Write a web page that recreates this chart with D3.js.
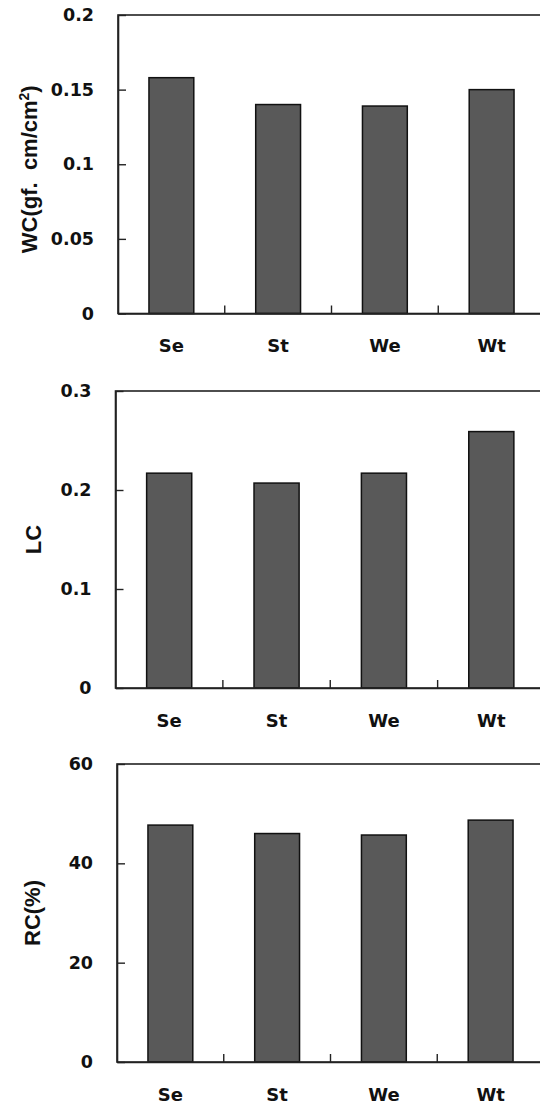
<!DOCTYPE html>
<html>
<head>
<meta charset="utf-8">
<script src="https://cdn.jsdelivr.net/npm/d3@7/dist/d3.min.js"></script>
<style>
  html, body { margin: 0; padding: 0; background: #fff; }
  svg { display: block; }
  .tick text, .cat-label { font-family: "DejaVu Sans", sans-serif; font-weight: bold; font-size: 17.5px; fill: #111; }
  .x-axis .tick text { font-size: 18px; }
  .axis-title { font-family: "Liberation Sans", Arial, sans-serif; font-weight: bold; font-size: 22px; fill: #111; white-space: pre; }
</style>
</head>
<body>
<svg id="chart" width="540" height="1104"></svg>
<script>
// Fabric measurements per sample
const categories = ["Se", "St", "We", "Wt"];
const wcValues = [0.158, 0.140, 0.139, 0.150];
const lcValues = [0.217, 0.207, 0.217, 0.259];
const rcValues = [47.7, 46.0, 45.7, 48.7];
const wcTicks = [0, 0.05, 0.1, 0.15, 0.2];
const lcTicks = [0, 0.1, 0.2, 0.3];
const rcTicks = [0, 20, 40, 60];

// Panel layout (frame box in page pixels)
const panels = [
  { values: wcValues, ticks: wcTicks, max: 0.2, title: "WC", left: 118, right: 545, top: 15, bottom: 313.5, titleX: 37 },
  { values: lcValues, ticks: lcTicks, max: 0.3, title: "LC", left: 115.5, right: 545, top: 391, bottom: 688, titleX: 41 },
  { values: rcValues, ticks: rcTicks, max: 60, title: "RC(%)", left: 117, right: 544, top: 764, bottom: 1062, titleX: 40 }
];

const svg = d3.select("#chart");

panels.forEach(p => {
  const g = svg.append("g");

  const x = d3.scaleBand()
    .domain(categories)
    .range([p.left, p.right])
    .paddingInner(0.58)
    .paddingOuter(0.29);

  const y = d3.scaleLinear()
    .domain([0, p.max])
    .range([p.bottom, p.top]);

  // bars
  g.selectAll("rect.bar")
    .data(categories.map((c, i) => ({ c, v: p.values[i] })))
    .join("rect")
    .attr("class", "bar")
    .attr("x", d => x(d.c))
    .attr("width", x.bandwidth())
    .attr("y", d => y(d.v))
    .attr("height", d => y(0) - y(d.v))
    .attr("fill", "#595959")
    .attr("stroke", "#111")
    .attr("stroke-width", 1.5);

  // frame
  g.append("rect")
    .attr("x", p.left)
    .attr("y", p.top)
    .attr("width", p.right - p.left)
    .attr("height", p.bottom - p.top)
    .attr("fill", "none")
    .attr("stroke", "#222")
    .attr("stroke-width", 1.6);

  // y axis with inward ticks
  const yAxis = d3.axisLeft(y)
    .tickValues(p.ticks)
    .tickFormat(d => String(d))
    .tickSizeInner(-8)
    .tickSizeOuter(0)
    .tickPadding(24);
  const ya = g.append("g")
    .attr("transform", `translate(${p.left},0)`)
    .call(yAxis);
  ya.select(".domain").attr("stroke", "#222").attr("stroke-width", 1.6);
  ya.selectAll(".tick line").attr("stroke", "#222").attr("stroke-width", 1.4);

  // x axis: category labels
  const xAxis = d3.axisBottom(x)
    .tickSize(0)
    .tickPadding(26);
  const xa = g.append("g")
    .attr("class", "x-axis")
    .attr("transform", `translate(0,${p.bottom})`)
    .call(xAxis);
  xa.select(".domain").attr("stroke", "#222").attr("stroke-width", 1.6);

  // separators between categories
  const step = x.step();
  const bounds = d3.range(1, categories.length).map(i => p.left + i * step);
  g.selectAll("line.sep")
    .data(bounds)
    .join("line")
    .attr("class", "sep")
    .attr("x1", d => d).attr("x2", d => d)
    .attr("y1", p.bottom).attr("y2", p.bottom - 8)
    .attr("stroke", "#222")
    .attr("stroke-width", 1.4);

  // axis title
  const cy = (p.top + p.bottom) / 2 + (p.title === "WC" ? 5 : 0);
  const t = g.append("text")
    .attr("class", "axis-title")
    .attr("text-anchor", "middle")
    .attr("transform", `translate(${p.titleX},${cy}) rotate(-90)`);
  if (p.title === "WC") {
    t.append("tspan").text("WC(gf.  cm/cm");
    t.append("tspan").attr("font-size", "14px").attr("dy", "-8").text("2");
    t.append("tspan").attr("dy", "8").text(")");
  } else {
    t.text(p.title);
  }
});
</script>
</body>
</html>
